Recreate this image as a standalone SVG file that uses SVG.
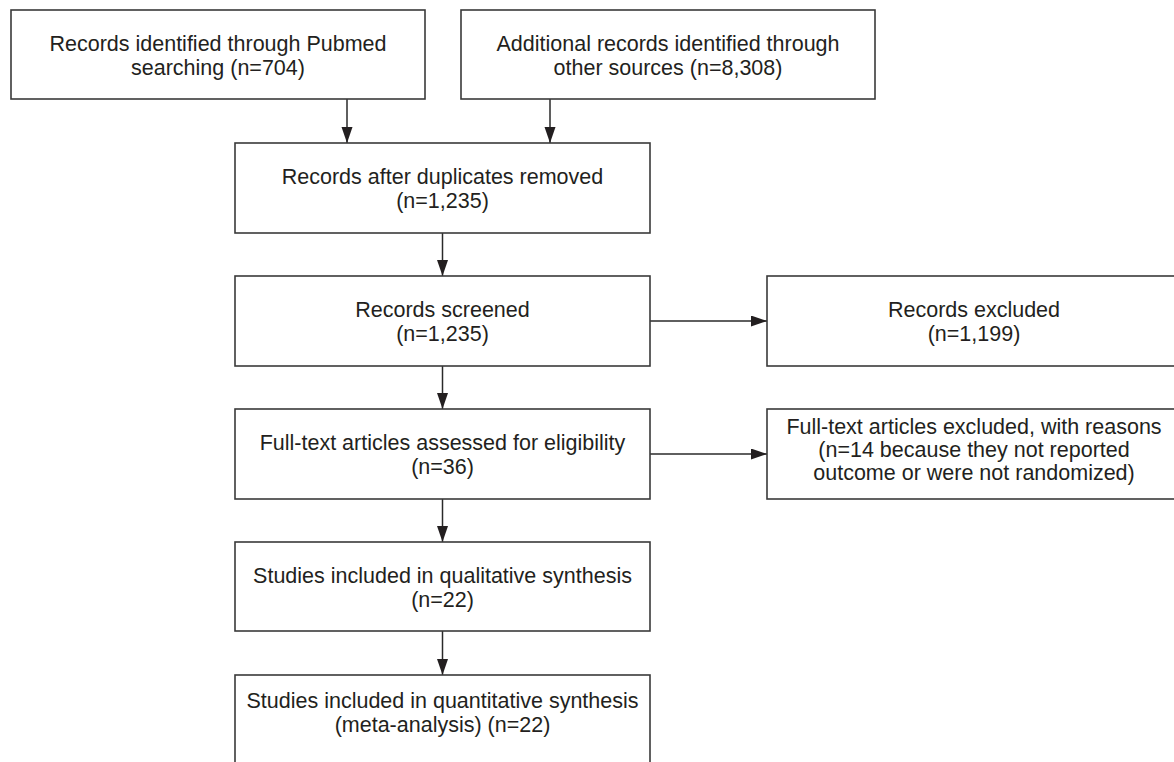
<svg xmlns="http://www.w3.org/2000/svg" width="1174" height="762" viewBox="0 0 1174 762">
<style>
.box{fill:#fff;stroke:#3a3a3a;stroke-width:1.6}
.t{font-family:"Liberation Sans",Arial,sans-serif;font-size:21.5px;fill:#231f20;text-anchor:middle}
.c{stroke:#2a2a2a;stroke-width:1.5;fill:none;marker-end:url(#ah)}
</style>
<defs>
<marker id="ah" markerUnits="userSpaceOnUse" markerWidth="17" markerHeight="12" refX="16" refY="5.5" orient="auto">
<path d="M0,0 L16,5.5 L0,11 Z" fill="#231f20"/>
</marker>
</defs>
<rect width="1174" height="762" fill="#fff"/>
<g id="connectors">
<line class="c" x1="347" y1="99" x2="347" y2="143"/>
<line class="c" x1="550" y1="99" x2="550" y2="143"/>
<line class="c" x1="442.5" y1="233" x2="442.5" y2="276"/>
<line class="c" x1="650" y1="321" x2="767" y2="321"/>
<line class="c" x1="442.5" y1="366" x2="442.5" y2="409"/>
<line class="c" x1="650" y1="454" x2="767" y2="454"/>
<line class="c" x1="442.5" y1="499" x2="442.5" y2="542"/>
<line class="c" x1="442.5" y1="631" x2="442.5" y2="675"/>
</g>
<g id="n1"><rect class="box" x="11" y="10" width="414" height="89"/>
<text class="t" x="218" y="51">Records identified through Pubmed</text>
<text class="t" x="218" y="75">searching (n=704)</text></g>
<g id="n2"><rect class="box" x="461" y="10" width="414" height="89"/>
<text class="t" x="668" y="51">Additional records identified through</text>
<text class="t" x="668" y="75">other sources (n=8,308)</text></g>
<g id="n3"><rect class="box" x="235" y="143" width="415" height="90"/>
<text class="t" x="442.5" y="184">Records after duplicates removed</text>
<text class="t" x="442.5" y="208">(n=1,235)</text></g>
<g id="n4"><rect class="box" x="235" y="276" width="415" height="90"/>
<text class="t" x="442.5" y="317">Records screened</text>
<text class="t" x="442.5" y="341">(n=1,235)</text></g>
<g id="n5"><rect class="box" x="767" y="276" width="416" height="90"/>
<text class="t" x="974" y="317">Records excluded</text>
<text class="t" x="974" y="341">(n=1,199)</text></g>
<g id="n6"><rect class="box" x="235" y="409" width="415" height="90"/>
<text class="t" x="442.5" y="450">Full-text articles assessed for eligibility</text>
<text class="t" x="442.5" y="474">(n=36)</text></g>
<g id="n7"><rect class="box" x="767" y="409" width="416" height="90"/>
<text class="t" x="974" y="434">Full-text articles excluded, with reasons</text>
<text class="t" x="974" y="457">(n=14 because they not reported</text>
<text class="t" x="974" y="480">outcome or were not randomized)</text></g>
<g id="n8"><rect class="box" x="235" y="542" width="415" height="89"/>
<text class="t" x="442.5" y="583">Studies included in qualitative synthesis</text>
<text class="t" x="442.5" y="607">(n=22)</text></g>
<g id="n9"><rect class="box" x="235" y="675" width="415" height="100"/>
<text class="t" x="442.5" y="708">Studies included in quantitative synthesis</text>
<text class="t" x="442.5" y="732">(meta-analysis) (n=22)</text></g>
</svg>
